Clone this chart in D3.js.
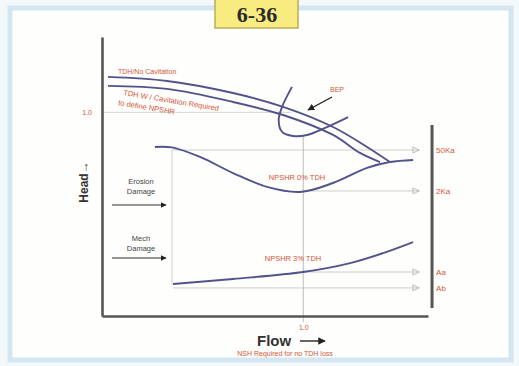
<!DOCTYPE html>
<html><head><meta charset="utf-8">
<script src="https://cdn.jsdelivr.net/npm/d3@7"></script>
<style>html,body{margin:0;padding:0;background:#f4f8fb;}svg{display:block;font-family:"Liberation Sans",Arial,sans-serif;}</style>
</head><body>
<script>
// ---- data (flow, head in normalised units) ----
const tdhNoCav = [[0.03,1.174],[0.323,1.154],[0.651,1.095],[0.90,1.027],[1.148,0.928],[1.317,0.830],[1.431,0.756]];
const tdhCav   = [[0.03,1.130],[0.323,1.115],[0.651,1.051],[0.90,0.987],[1.148,0.889],[1.282,0.801],[1.382,0.756]];
const npshr0   = [[0.263,0.830],[0.348,0.828],[0.487,0.781],[0.651,0.702],[0.820,0.634],[0.984,0.609],[1.148,0.653],[1.317,0.727],[1.431,0.756],[1.546,0.766]];
const npshr3   = [[0.353,0.157],[0.651,0.182],[0.999,0.216],[1.233,0.260],[1.397,0.309],[1.546,0.363]];
const bepCurve = [[0.944,1.125],[0.895,1.027],[0.878,0.963],[0.895,0.904],[0.949,0.884],[1.019,0.889],[1.118,0.928],[1.223,0.977]];
const refLabels = ["50Ka","2Ka","Aa","Ab"];
const refHeads  = [0.815,0.614,0.216,0.138];
const refStarts = [0.348,1.0,1.0,0.353];
const flowTicks = [1.0];
const headTicks = [1.0];

const W=519,H=366;
const svg=d3.select("body").append("svg").attr("width",W).attr("height",H);
const x=d3.scaleLinear().domain([0,1.62]).range([102,428]);
const y=d3.scaleLinear().domain([0,1.37]).range([316,37]);
const red="#d4563a", curve="#52528c", grid="#c9c9c9", axisC="#555";

// frame
svg.append("rect").attr("x",0).attr("y",0).attr("width",W).attr("height",H).attr("fill","#f3f8fb");
svg.append("rect").attr("x",10).attr("y",8).attr("width",501).attr("height",352)
  .attr("fill","#fefefc").attr("stroke","#d3e5f0").attr("stroke-width",5);

// defs
const defs=svg.append("defs");
defs.append("marker").attr("id","ah").attr("viewBox","0 0 10 10").attr("refX",9).attr("refY",5)
  .attr("markerWidth",5).attr("markerHeight",5).attr("orient","auto")
  .append("path").attr("d","M0,0L10,5L0,10z").attr("fill","#222");

// reference lines
svg.append("line").attr("x1",x(0)).attr("x2",x(0.94)).attr("y1",y(1)).attr("y2",y(1)).attr("stroke",grid).attr("stroke-width",0.8);
refHeads.forEach((h,i)=>{
  svg.append("line").attr("x1",x(refStarts[i])).attr("x2",x(1.58)).attr("y1",y(h)).attr("y2",y(h))
    .attr("stroke",grid).attr("stroke-width",0.9);
  svg.append("path").attr("d",`M${x(1.565)-4},${y(h)-3}L${x(1.565)+2},${y(h)}L${x(1.565)-4},${y(h)+3}z`)
    .attr("fill","none").attr("stroke","#aaa").attr("stroke-width",0.8);
  svg.append("text").attr("x",x(1.66)).attr("y",y(h)+3).attr("font-size",8).attr("fill",red).text(refLabels[i]);
});
svg.append("line").attr("x1",x(1)).attr("x2",x(1)).attr("y1",y(-0.03)).attr("y2",y(0.884)).attr("stroke","#a9a9a9").attr("stroke-width",0.8);
svg.append("line").attr("x1",x(0.348)).attr("x2",x(0.348)).attr("y1",y(0.815)).attr("y2",y(0.155)).attr("stroke",grid).attr("stroke-width",0.9);

// axes
const xAxis=svg.append("g").attr("transform",`translate(0,${y(0)})`)
  .call(d3.axisBottom(x).tickValues(flowTicks).tickSize(0).tickPadding(9).tickFormat(d3.format(".1f")));
const yAxis=svg.append("g").attr("transform",`translate(${x(0)},0)`)
  .call(d3.axisLeft(y).tickValues(headTicks).tickSize(0).tickPadding(10).tickFormat(d3.format(".1f")));
[xAxis,yAxis].forEach(g=>{
  g.select(".domain").attr("stroke",axisC).attr("stroke-width",2.6);
  g.selectAll("text").attr("fill",red).attr("font-size",7).attr("font-family","Liberation Sans, Arial");
});
// right bar
svg.append("line").attr("x1",x(1.64)).attr("x2",x(1.64)).attr("y1",y(0.938)).attr("y2",y(0.039))
  .attr("stroke",axisC).attr("stroke-width",3);

// curves
const line=d3.line().x(d=>x(d[0])).y(d=>y(d[1])).curve(d3.curveCatmullRom.alpha(0.5));
[tdhNoCav,tdhCav,npshr0,npshr3,bepCurve].forEach(c=>{
  svg.append("path").attr("d",line(c)).attr("fill","none").attr("stroke",curve).attr("stroke-width",1.9);
});

// BEP label & arrow
svg.append("text").attr("x",330).attr("y",92).attr("font-size",7).attr("fill",red).text("BEP");
svg.append("line").attr("x1",332).attr("y1",97).attr("x2",308).attr("y2",110).attr("stroke","#222").attr("stroke-width",1.4).attr("marker-end","url(#ah)");

// curve labels
svg.append("text").attr("x",118).attr("y",74).attr("font-size",7).attr("fill",red).text("TDH/No Cavitation");
svg.append("text").attr("transform","translate(123,95) rotate(9.5)").attr("font-size",7.5).attr("fill",red).text("TDH W / Cavitation Required");
svg.append("text").attr("transform","translate(118,105) rotate(9.5)").attr("font-size",7.5).attr("fill",red).text("to define NPSHR");
svg.append("text").attr("x",297).attr("y",180).attr("text-anchor","middle").attr("font-size",7.5).attr("fill",red).text("NPSHR 0% TDH");
svg.append("text").attr("x",293).attr("y",261).attr("text-anchor","middle").attr("font-size",7.5).attr("fill",red).text("NPSHR 3% TDH");

// damage labels
[["Erosion",184],["Damage",194],["Mech",241],["Damage",251]].forEach(d=>{
  svg.append("text").attr("x",141).attr("y",d[1]).attr("text-anchor","middle").attr("font-size",7.5).attr("fill","#444").text(d[0]);
});
[205,258].forEach(yy=>{
  svg.append("line").attr("x1",112).attr("x2",166).attr("y1",yy).attr("y2",yy).attr("stroke","#333").attr("stroke-width",1.2).attr("marker-end","url(#ah)");
});

// axis titles
svg.append("text").attr("transform","translate(88,182) rotate(-90)").attr("text-anchor","middle")
  .attr("font-size",12).attr("font-weight","bold").attr("fill","#333").text("Head\u2192");
svg.append("text").attr("x",257).attr("y",346).attr("font-size",15).attr("font-weight","bold").attr("fill","#333").text("Flow");
svg.append("line").attr("x1",300).attr("x2",325).attr("y1",341).attr("y2",341).attr("stroke","#333").attr("stroke-width",1.5).attr("marker-end","url(#ah)");
svg.append("text").attr("x",285).attr("y",356).attr("text-anchor","middle").attr("font-size",7).attr("fill",red).text("NSH Required for no TDH loss");

// title box
svg.append("rect").attr("x",215).attr("y",-3).attr("width",83).attr("height",31).attr("fill","#f8ec80").attr("stroke","#b9ad5a").attr("stroke-width",1.5);
svg.append("text").attr("x",257).attr("y",22).attr("text-anchor","middle").attr("font-family","Liberation Serif, serif")
  .attr("font-size",22).attr("font-weight","bold").attr("fill","#2a2a2a").text("6-36");
</script>
</body></html>
